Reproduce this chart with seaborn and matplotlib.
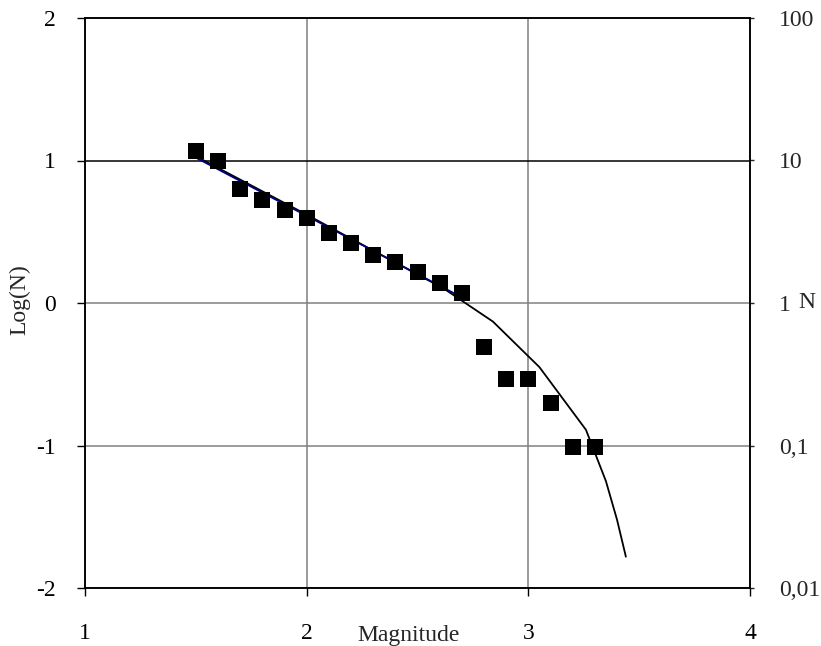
import numpy as np
import pandas as pd
import matplotlib
matplotlib.use("Agg")
import matplotlib.pyplot as plt
import seaborn as sns
from matplotlib.ticker import FixedLocator, FuncFormatter

# ---- data ----
magnitude = [1.5, 1.6, 1.7, 1.8, 1.9, 2.0, 2.1, 2.2, 2.3, 2.4, 2.5, 2.6, 2.7,
             2.8, 2.9, 3.0, 3.1, 3.2, 3.3]
log_n = [1.07, 1.00, 0.80, 0.72, 0.65, 0.60, 0.49, 0.42, 0.34, 0.29, 0.22, 0.14, 0.07,
         -0.31, -0.53, -0.53, -0.70, -1.01, -1.01]

fit_mag = [1.5, 2.68]
fit_log = [1.02, 0.056]

model_mag = [1.5, 2.0, 2.5, 2.62, 2.84, 3.05, 3.26, 3.30, 3.35, 3.40, 3.44]
model_log = [1.03, 0.62, 0.20, 0.10, -0.13, -0.45, -0.89, -1.05, -1.25, -1.52, -1.78]

x_ticks = [1, 2, 3, 4]
y_ticks = [-2, -1, 0, 1, 2]
n_ticks = [0.01, 0.1, 1, 10, 100]
n_labels = ["0,01", "0,1", "1", "10", "100"]

pts = pd.DataFrame({"Magnitude": magnitude, "LogN": log_n})
fit = pd.DataFrame({"Magnitude": fit_mag, "LogN": fit_log})
model = pd.DataFrame({"Magnitude": model_mag, "LogN": model_log})

sns.set_style("white")
plt.rcParams["font.family"] = ["Liberation Serif", "DejaVu Serif"]

fig = plt.figure(figsize=(8.21, 6.46), dpi=100)
ax = fig.add_axes([85 / 821, 1 - 588 / 646, 665 / 821, 570 / 646])

sns.lineplot(data=model, x="Magnitude", y="LogN", ax=ax, color="black", lw=1.3,
             sort=False, zorder=3)
sns.lineplot(data=fit, x="Magnitude", y="LogN", ax=ax, color="#000080", lw=1.3,
             sort=False, zorder=4)
sns.scatterplot(data=pts, x="Magnitude", y="LogN", ax=ax, marker="s", s=130,
                color="black", edgecolor="black", linewidth=0, zorder=5)

ax.set_xlim(1, 4)
ax.set_ylim(-2, 2)
ax.xaxis.set_major_locator(FixedLocator(x_ticks))
ax.yaxis.set_major_locator(FixedLocator(y_ticks))
ax.set_xticklabels([str(v) for v in x_ticks])
ax.set_yticklabels([str(v) for v in y_ticks])
ax.grid(True, color="#808080", lw=1.1)
for gl, v in zip(ax.get_ygridlines(), y_ticks):
    if v == 1:
        gl.set_color("black")
ax.set_axisbelow(True)
for s in ax.spines.values():
    s.set_visible(True)
    s.set_color("black")
    s.set_linewidth(1.1)
ax.tick_params(axis="both", direction="out", length=6, width=1, colors="black",
               labelsize=17, left=True, bottom=True)
ax.tick_params(axis="y", pad=15)
ax.tick_params(axis="x", pad=19)
ax.set_xlabel("")
ax.set_ylabel("")

ax2 = ax.twinx()
ax2.set_yscale("log")
ax2.set_ylim(0.01, 100)
ax2.yaxis.set_major_locator(FixedLocator(n_ticks))
ax2.yaxis.set_minor_locator(FixedLocator([]))
ax2.yaxis.set_major_formatter(FuncFormatter(lambda v, p: dict(zip(n_ticks, n_labels)).get(v, "")))
ax2.tick_params(axis="y", direction="out", length=3, width=1, labelsize=17, pad=18,
                right=True)
for s in ax2.spines.values():
    s.set_color("black")
    s.set_linewidth(1.1)

fig.text(20 / 821, 1 - 300 / 646, "Log(N)", fontsize=17, ha="center", va="center",
         rotation=90)
fig.text(409 / 821, 1 - 635 / 646, "Magnitude", fontsize=17, ha="center", va="center")
fig.text(807 / 821, 1 - 302 / 646, "N", fontsize=17, ha="center", va="center")

fig.savefig("out.png", dpi=100)
